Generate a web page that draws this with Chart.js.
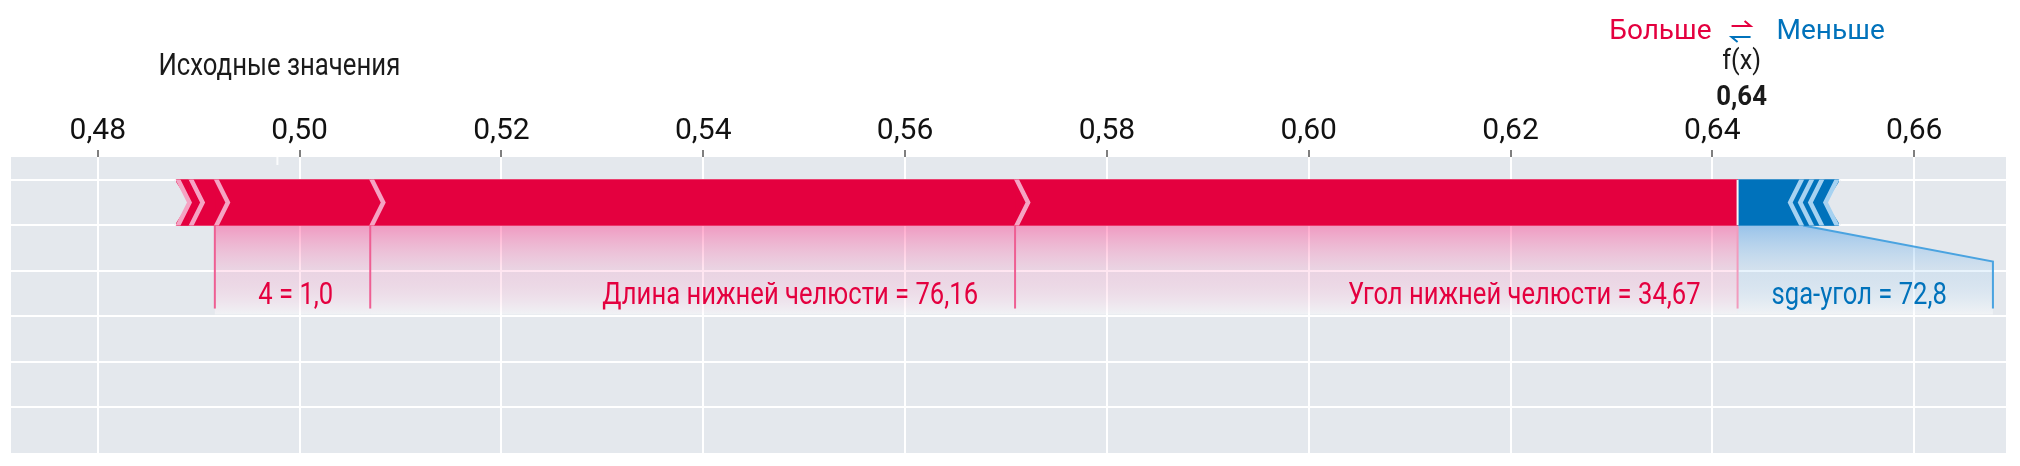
<!DOCTYPE html>
<html lang="ru">
<head>
    <meta charset="UTF-8" />
    <title>Force plot</title>
    <script src="https://cdn.jsdelivr.net/npm/chart.js@4.4.1/dist/chart.umd.min.js"></script>
    <style>
        html, body { margin: 0; padding: 0; background: #fff; }
    </style>
</head>
<body>
    <canvas id="chart" width="2020" height="466"></canvas>

    <script>
        // ---- data ----
        const baseValue = 0.4978;
        const outputValue = 0.6425;
        const outputLabel = '0,64';
        // red features (push higher), from f(x) to the left
        const posNames = ['Угол нижней челюсти = 34,67', 'Длина нижней челюсти = 76,16', '4 = 1,0', '', ''];
        const posValues = [0.0716, 0.0639, 0.0154, 0.0025, 0.0013];
        // blue features (push lower), from f(x) to the right
        const negNames = ['sga-угол = 72,8', '', '', ''];
        const negValues = [0.0065, 0.0010, 0.0010, 0.0015];
        const tickValues = [0.48, 0.50, 0.52, 0.54, 0.56, 0.58, 0.60, 0.62, 0.64, 0.66];
        const tickLabels = ['0,48', '0,50', '0,52', '0,54', '0,56', '0,58', '0,60', '0,62', '0,64', '0,66'];
        const rowLines = [0.5, 1.5, 2.5, 3.5, 4.5, 5.5];
        const barRow = 1;

        const RED = '#e4003f';
        const BLUE = '#0072bb';
        const BG = '#e4e8ed';
        const FAMILY = 'Roboto, "Noto Sans", sans-serif';
        const labelFont = '32px ' + FAMILY;
        const LABEL_SQ = 0.8;

        // build segments
        const redSegs = [];
        let end = outputValue;
        posValues.forEach((v, i) => {
            redSegs.push({ x: [end - v, end], y: barRow, name: posNames[i] });
            end -= v;
        });
        const blueSegs = [];
        let st = outputValue;
        negValues.forEach((v, i) => {
            blueSegs.push({ x: [st, st + v], y: barRow, name: negNames[i] });
            st += v;
        });

        function drawText(ctx, str, x, y, font, color, align, sq) {
            ctx.save();
            ctx.font = font;
            ctx.fillStyle = color;
            ctx.textBaseline = 'middle';
            ctx.textAlign = align || 'center';
            ctx.translate(x, y);
            ctx.scale(sq || 1, 1);
            ctx.fillText(str, 0, 0);
            ctx.restore();
        }
        function textWidth(ctx, str, font, sq) {
            ctx.save();
            ctx.font = font;
            const w = ctx.measureText(str).width * (sq || 1);
            ctx.restore();
            return w;
        }

        function barBox(chart) {
            const el = chart.getDatasetMeta(0).data[0];
            const p = el.getProps(['y', 'height'], true);
            return { top: p.y - p.height / 2, bottom: p.y + p.height / 2, mid: p.y };
        }

        function labelRegions(ctx, xs, segs, dir) {
            let edge = xs.getPixelForValue(outputValue);
            const out = [];
            segs.forEach(s => {
                if (!s.name) return;
                const a = xs.getPixelForValue(s.x[0]), b = xs.getPixelForValue(s.x[1]);
                const w = Math.max(b - a, textWidth(ctx, s.name, labelFont, LABEL_SQ) + 80);
                let l, r;
                if (dir < 0) { r = edge; l = r - w; edge = l; }
                else { l = edge; r = l + w; edge = r; }
                out.push({ a, b, l, r, name: s.name });
            });
            return out;
        }

        const forcePlot = {
            id: 'forcePlot',
            beforeDraw(chart) {
                const { ctx, chartArea: ca } = chart;
                ctx.save();
                ctx.fillStyle = BG;
                ctx.fillRect(ca.left, ca.top, ca.right - ca.left, ca.bottom - ca.top);
                ctx.restore();
            },
            beforeDatasetsDraw(chart) {
                const { ctx } = chart;
                const xs = chart.scales.x;
                const bb = barBox(chart);
                const top = bb.bottom, slant = top + 36, bot = top + 89;

                const groups = [
                    { regs: labelRegions(ctx, xs, redSegs, -1), c0: 'rgba(255,60,140,0.45)', c1: 'rgba(255,140,190,0.22)', line: '#ee5f93' },
                    { regs: labelRegions(ctx, xs, blueSegs, 1), c0: 'rgba(60,150,230,0.45)', c1: 'rgba(150,200,240,0.22)', line: '#4aa3e0' }
                ];
                ctx.save();
                groups.forEach(g => {
                    const grad = ctx.createLinearGradient(0, top, 0, bot);
                    grad.addColorStop(0, g.c0);
                    grad.addColorStop(0.5, g.c1);
                    grad.addColorStop(1, 'rgba(255,255,255,0.45)');
                    g.regs.forEach(r => {
                        ctx.beginPath();
                        ctx.moveTo(r.a, top);
                        ctx.lineTo(r.b, top);
                        ctx.lineTo(r.r, slant);
                        ctx.lineTo(r.r, bot);
                        ctx.lineTo(r.l, bot);
                        ctx.lineTo(r.l, slant);
                        ctx.closePath();
                        ctx.fillStyle = grad;
                        ctx.fill();
                    });
                });
                // boundary lines
                ctx.lineWidth = 2;
                const fx = xs.getPixelForValue(outputValue);
                groups[0].regs.forEach(r => {
                    ctx.strokeStyle = groups[0].line;
                    ctx.beginPath();
                    ctx.moveTo(r.l, top); ctx.lineTo(r.l, top + 83);
                    ctx.stroke();
                });
                ctx.strokeStyle = '#f29bbd';
                ctx.beginPath(); ctx.moveTo(fx, top); ctx.lineTo(fx, top + 83); ctx.stroke();
                groups[1].regs.forEach(r => {
                    ctx.strokeStyle = groups[1].line;
                    ctx.beginPath();
                    ctx.moveTo(r.b, top); ctx.lineTo(r.r, slant); ctx.lineTo(r.r, top + 83);
                    ctx.stroke();
                });
                ctx.restore();
            },
            afterDatasetsDraw(chart) {
                const { ctx } = chart;
                const xs = chart.scales.x;
                const bb = barBox(chart);
                const d = 13;
                ctx.save();
                ctx.beginPath();
                ctx.rect(0, bb.top, chart.width, bb.bottom - bb.top);
                ctx.clip();
                ctx.lineWidth = 4.5;
                ctx.lineJoin = 'miter';
                // red chevrons
                redSegs.forEach((s, i) => {
                    const px = xs.getPixelForValue(s.x[0]);
                    if (i === redSegs.length - 1) {
                        ctx.fillStyle = BG;
                        ctx.beginPath();
                        ctx.moveTo(px - 2, bb.top); ctx.lineTo(px + d, bb.mid); ctx.lineTo(px - 2, bb.bottom);
                        ctx.closePath(); ctx.fill();
                    }
                    ctx.strokeStyle = '#f5a3c3';
                    ctx.beginPath();
                    ctx.moveTo(px, bb.top - 3); ctx.lineTo(px + d, bb.mid); ctx.lineTo(px, bb.bottom + 3);
                    ctx.stroke();
                });
                // blue chevrons
                blueSegs.forEach((s, i) => {
                    const px = xs.getPixelForValue(s.x[1]);
                    if (i === blueSegs.length - 1) {
                        ctx.fillStyle = BG;
                        ctx.beginPath();
                        ctx.moveTo(px + 2, bb.top); ctx.lineTo(px - d, bb.mid); ctx.lineTo(px + 2, bb.bottom);
                        ctx.closePath(); ctx.fill();
                    }
                    ctx.strokeStyle = '#a6d2f1';
                    ctx.beginPath();
                    ctx.moveTo(px, bb.top - 3); ctx.lineTo(px - d, bb.mid); ctx.lineTo(px, bb.bottom + 3);
                    ctx.stroke();
                });
                // separator at f(x)
                const fx = xs.getPixelForValue(outputValue);
                ctx.strokeStyle = '#f4f4f7';
                ctx.lineWidth = 2;
                ctx.beginPath(); ctx.moveTo(fx, bb.top); ctx.lineTo(fx, bb.bottom); ctx.stroke();
                ctx.restore();

                // feature labels
                const textY = bb.bottom + 70;
                labelRegions(ctx, xs, redSegs, -1).forEach(r => drawText(ctx, r.name, r.r - 37, textY, labelFont, RED, 'right', LABEL_SQ));
                labelRegions(ctx, xs, blueSegs, 1).forEach(r => drawText(ctx, r.name, r.l + 34, textY, labelFont, BLUE, 'left', LABEL_SQ));

                // base value
                const bx = xs.getPixelForValue(baseValue);
                ctx.save();
                ctx.strokeStyle = 'rgba(255,255,255,0.85)';
                ctx.lineWidth = 2;
                ctx.beginPath(); ctx.moveTo(bx, chart.chartArea.top - 8); ctx.lineTo(bx, chart.chartArea.top + 8); ctx.stroke();
                ctx.restore();
                drawText(ctx, 'Исходные значения', bx + 2, 67, '31px ' + FAMILY, '#1a1a1a', 'center', 0.83);

                // f(x)
                drawText(ctx, 'f(x)', fx + 4, 62, '28px ' + FAMILY, '#1a1a1a', 'center', 0.9);
                drawText(ctx, outputLabel, fx + 4, 98, 'bold 28px ' + FAMILY, '#1a1a1a', 'center', 0.92);

                // legend
                drawText(ctx, 'Больше', fx - 26, 32, '28px ' + FAMILY, RED, 'right', 1);
                drawText(ctx, 'Меньше', fx + 39, 32, '28px ' + FAMILY, BLUE, 'left', 1);
                ctx.save();
                ctx.lineWidth = 2;
                ctx.strokeStyle = RED;
                ctx.beginPath();
                ctx.moveTo(fx - 6, 26); ctx.lineTo(fx + 13, 26); ctx.lineTo(fx + 7, 21);
                ctx.stroke();
                ctx.strokeStyle = BLUE;
                ctx.beginPath();
                ctx.moveTo(fx + 13, 37); ctx.lineTo(fx - 6, 37); ctx.lineTo(fx, 42);
                ctx.stroke();
                ctx.restore();
            }
        };

        new Chart(document.getElementById('chart'), {
            type: 'bar',
            data: {
                datasets: [
                    { label: 'Больше', data: redSegs, backgroundColor: RED },
                    { label: 'Меньше', data: blueSegs, backgroundColor: BLUE }
                ]
            },
            options: {
                indexAxis: 'y',
                responsive: false,
                animation: false,
                layout: { padding: { left: 11, right: 14, top: 0, bottom: 13 } },
                datasets: { bar: { grouped: false, barThickness: 46, borderWidth: 0, borderSkipped: false } },
                plugins: { legend: { display: false }, tooltip: { enabled: false } },
                scales: {
                    x: {
                        type: 'linear',
                        position: 'top',
                        min: 0.4714,
                        max: 0.6691,
                        afterBuildTicks: s => { s.ticks = tickValues.map(v => ({ value: v })); },
                        afterFit: s => { s.height = 157; },
                        border: { display: false },
                        grid: { color: '#ffffff', lineWidth: 2, tickColor: '#555', tickWidth: 1.5, tickLength: 7 },
                        ticks: {
                            autoSkip: false, maxRotation: 0, padding: 1, color: '#111',
                            font: { family: FAMILY, size: 30 },
                            callback: (v, i) => tickLabels[i]
                        }
                    },
                    y: {
                        type: 'linear',
                        reverse: true,
                        offset: false,
                        min: 0,
                        max: 6.5,
                        afterBuildTicks: s => { s.ticks = rowLines.map(v => ({ value: v })); },
                        afterFit: s => { s.width = 0; },
                        border: { display: false },
                        grid: { color: '#ffffff', lineWidth: 2, drawTicks: false, offset: false },
                        ticks: { display: false }
                    }
                }
            },
            plugins: [forcePlot]
        });
    </script>
</body>
</html>
